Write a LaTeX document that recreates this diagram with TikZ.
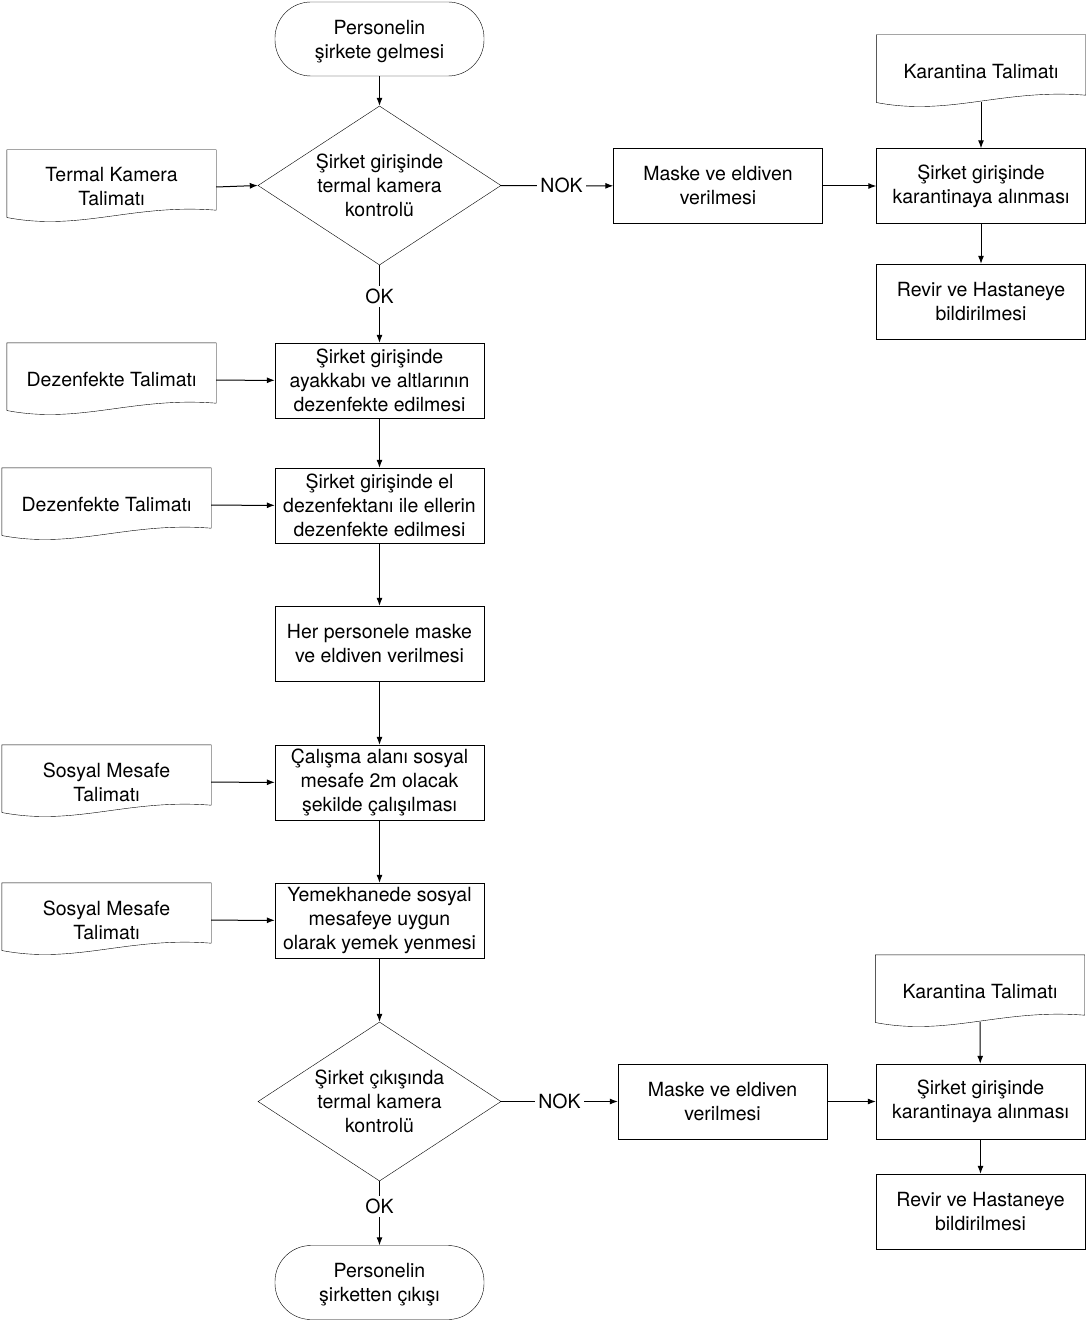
\documentclass[tikz,border=0pt]{standalone}
\usepackage{fontspec}
\setmainfont{TeX Gyre Heros}
\usetikzlibrary{shapes.geometric, arrows.meta, positioning, calc}

% belge (document) outline with wavy bottom
\newcommand{\talimat}[1]{%
  \draw (#1.north west) -- (#1.north east) -- ([yshift=14pt]#1.south east)
    .. controls ([xshift=-83.6pt,yshift=20.7pt]#1.south east) and ([xshift=73.2pt,yshift=-7.4pt]#1.south west) .. ([yshift=6.7pt]#1.south west)
    -- cycle;}

\begin{document}
\begin{tikzpicture}[x=1pt, y=-1pt,
    font=\fontsize{19.5}{24}\selectfont,
    terminal/.style={draw, rounded corners=36pt, minimum width=209pt, minimum height=74pt, text depth=0pt, align=center},
    kutu/.style={draw, minimum width=209pt, minimum height=75pt, inner sep=0pt, align=center},
    karar/.style={draw, diamond, aspect=1.53, inner sep=0pt, minimum width=243pt, minimum height=159pt, align=center},
    belge/.style={minimum width=209pt, minimum height=74pt, inner sep=0pt, align=center},
    etiket/.style={fill=white, inner sep=3pt},
    arrow/.style={-{Latex[length=8pt,width=6pt]}, line width=1pt}
]
    \useasboundingbox (0,0) rectangle (1087,1321);

    \node[terminal] (basla) at (379.5,39) {Personelin\\şirkete gelmesi};
    \node[karar] (giris) at (379.5,185.5) {Şirket girişinde\\termal kamera\\kontrolü};
    \node[belge] (termal) at (111.5,187) {Termal Kamera\\Talimatı};
    \node[kutu] (maske1) at (718,186) {Maske ve eldiven\\verilmesi};
    \node[belge] (karantina1) at (981,72) {Karantina Talimatı};
    \node[kutu] (karantinaya1) at (981,186) {Şirket girişinde\\karantinaya alınması};
    \node[kutu] (revir1) at (981,301.5) {Revir ve Hastaneye\\bildirilmesi};

    \node[kutu] (ayakkabi) at (379.5,380.5) {Şirket girişinde\\ayakkabı ve altlarının\\dezenfekte edilmesi};
    \node[belge] (dezenfekte1) at (111.5,380) {Dezenfekte Talimatı};
    \node[kutu] (eller) at (379.5,505.5) {Şirket girişinde el\\dezenfektanı ile ellerin\\dezenfekte edilmesi};
    \node[belge] (dezenfekte2) at (106.5,505) {Dezenfekte Talimatı};
    \node[kutu] (ekipman) at (379.5,643.5) {Her personele maske\\ve eldiven verilmesi};
    \node[kutu] (calisma) at (379.5,782.5) {Çalışma alanı sosyal\\mesafe 2m olacak\\şekilde çalışılması};
    \node[belge] (mesafe1) at (106.5,782) {Sosyal Mesafe\\Talimatı};
    \node[kutu] (yemek) at (379.5,920.5) {Yemekhanede sosyal\\mesafeye uygun\\olarak yemek yenmesi};
    \node[belge] (mesafe2) at (106.5,920) {Sosyal Mesafe\\Talimatı};

    \node[karar] (cikis) at (379.5,1101.5) {Şirket çıkışında\\termal kamera\\kontrolü};
    \node[kutu] (maske2) at (722.5,1101.5) {Maske ve eldiven\\verilmesi};
    \node[belge] (karantina2) at (980,992) {Karantina Talimatı};
    \node[kutu] (karantinaya2) at (980.5,1101.5) {Şirket girişinde\\karantinaya alınması};
    \node[kutu] (revir2) at (980.5,1211.5) {Revir ve Hastaneye\\bildirilmesi};
    \node[terminal] (bitis) at (379.5,1282.5) {Personelin\\şirketten çıkışı};

    \foreach \b in {termal, karantina1, dezenfekte1, dezenfekte2, mesafe1, mesafe2, karantina2}
        \talimat{\b};

    \draw[arrow] (basla) -- (giris);
    \draw[arrow] (termal.east) -- (giris.west);
    \draw[arrow] (giris) -- (ayakkabi) node[etiket, pos=0.4] {OK};
    \draw[arrow] (giris) -- (maske1) node[etiket, pos=0.54] {NOK};
    \draw[arrow] (maske1) -- (karantinaya1);
    \draw[arrow] ([yshift=7.4pt]karantina1.south) -- (karantinaya1);
    \draw[arrow] (karantinaya1) -- (revir1);

    \draw[arrow] (dezenfekte1) -- (ayakkabi);
    \draw[arrow] (ayakkabi) -- (eller);
    \draw[arrow] (dezenfekte2) -- (eller);
    \draw[arrow] (eller) -- (ekipman);
    \draw[arrow] (ekipman) -- (calisma);
    \draw[arrow] (mesafe1) -- (calisma);
    \draw[arrow] (calisma) -- (yemek);
    \draw[arrow] (mesafe2) -- (yemek);
    \draw[arrow] (yemek) -- (cikis);

    \draw[arrow] (cikis) -- (bitis) node[etiket, pos=0.4] {OK};
    \draw[arrow] (cikis) -- (maske2) node[etiket, midway] {NOK};
    \draw[arrow] (maske2) -- (karantinaya2);
    \draw[arrow] ([yshift=7.4pt]karantina2.south) -- (karantinaya2);
    \draw[arrow] (karantinaya2) -- (revir2);
\end{tikzpicture}
\end{document}
